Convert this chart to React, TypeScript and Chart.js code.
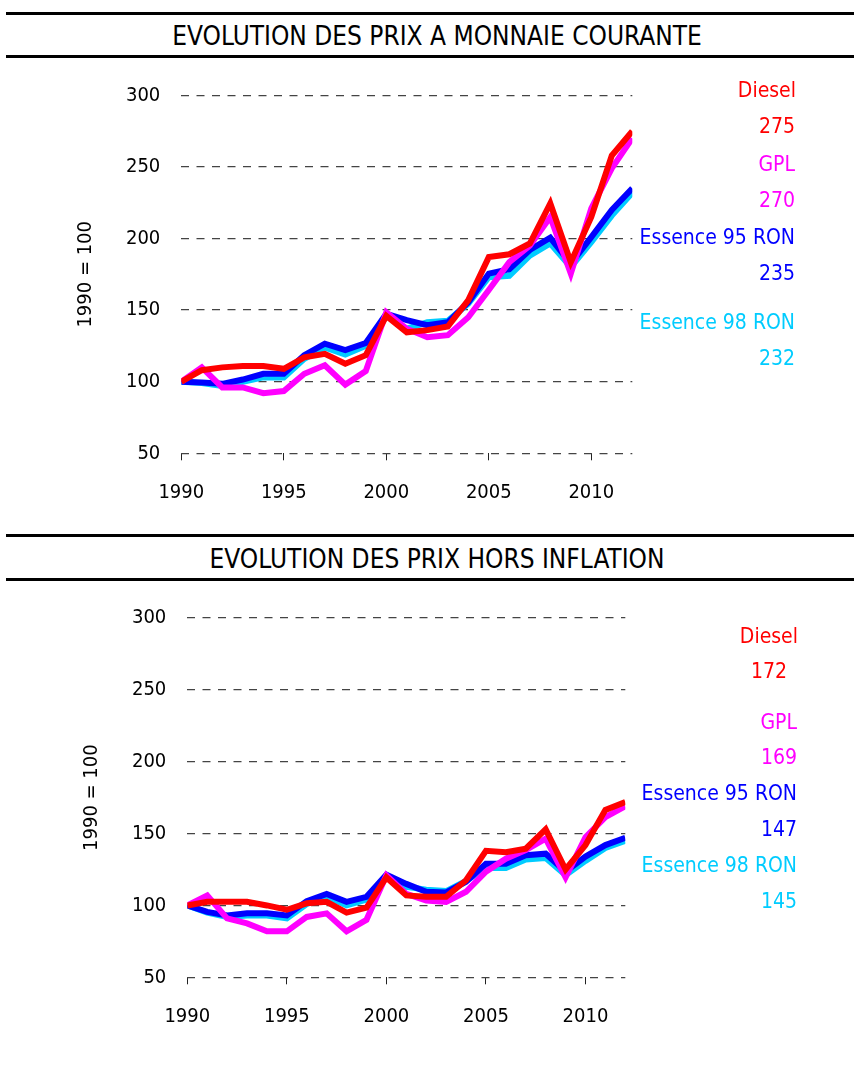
import React, { useEffect, useRef } from 'react';
import { Chart, registerables } from 'chart.js';

Chart.register(...registerables);

const FONT = '"DejaVu Sans Condensed", "DejaVu Sans", sans-serif';

const years = [1990, 1991, 1992, 1993, 1994, 1995, 1996, 1997, 1998, 1999, 2000, 2001, 2002, 2003, 2004, 2005, 2006, 2007, 2008, 2009, 2010, 2011, 2012];
const xTicks = [1990, 1995, 2000, 2005, 2010];
const yTicks = [50, 100, 150, 200, 250, 300];

const seriesNames = ['Diesel', 'GPL', 'Essence 95 RON', 'Essence 98 RON'];
const seriesColors = ['#FF0000', '#FF00FF', '#0000FF', '#00CCFF'];

// Prix à monnaie courante (1990 = 100)
const nominalDiesel = [100, 108, 110, 111, 111, 109, 117, 119.5, 112.5, 118.5, 146, 134.5, 136, 138.5, 157, 187, 189, 196.5, 224.5, 183.5, 215, 258, 275];
const nominalGpl = [100, 110, 96, 96, 92, 93.5, 105.5, 111.5, 98, 107.5, 148.5, 137, 131, 132.5, 145, 164, 183.5, 195, 215, 175.5, 221, 249, 270];
const nominalE95 = [100, 99.5, 98.5, 101.5, 105.5, 105.5, 118.5, 126.5, 122, 127, 147.5, 143, 139.5, 141.5, 155.5, 175.5, 178.5, 192, 200.5, 182.5, 201, 220, 235];
const nominalE98 = [100, 99, 97, 100, 103, 103, 116, 124, 119, 125, 146, 137, 141.5, 142.5, 154.5, 173, 174, 188, 196.5, 180, 197.5, 216, 232];
const nominalFinal = ['275', '270', '235', '232'];

// Prix hors inflation (1990 = 100)
const realDiesel = [100, 102.5, 102.5, 102.5, 100, 97, 101.5, 102.5, 95, 98.5, 119.5, 107, 106, 106, 117.5, 138, 137, 139.5, 153, 125, 142, 166.5, 172];
const realGpl = [100, 107, 91, 87.5, 82, 82, 92, 94.5, 82, 90, 121, 108, 103.5, 102.5, 109.5, 123.5, 132.5, 138.5, 146.5, 119.5, 147.5, 161.5, 169];
const realE95 = [100, 95.5, 93, 94.5, 94.5, 93, 103, 108, 102.5, 106, 121.5, 115, 109.5, 109, 116.5, 129, 129, 135, 136, 123.5, 134, 142, 147];
const realE98 = [100, 95, 92, 93, 93, 91, 101, 106, 100, 104, 120, 113, 111, 110, 117, 126, 126, 132, 133, 121, 131, 140, 145];
const realFinal = ['172', '169', '147', '145'];

const yAxisTitle = '1990 = 100';
const title1 = 'EVOLUTION DES PRIX A MONNAIE COURANTE';
const title2 = 'EVOLUTION DES PRIX HORS INFLATION';

type Label = { text: string; color: string; x: number; y: number; align?: CanvasTextAlign };

type PanelProps = {
  top: number;
  height: number;
  area: { left: number; right: number; top: number; bottom: number };
  yTitleX: number;
  series: number[][];
  labels: Label[];
};

function Panel({ top, height, area, yTitleX, series, labels }: PanelProps) {
  const ref = useRef<HTMLCanvasElement>(null);
  useEffect(() => {
    const canvas = ref.current!;
    const aTop = area.top - top;
    const aBottom = area.bottom - top;
    const font = { family: FONT, size: 20 };
    const labelPlugin = {
      id: 'sideLabels',
      afterDraw(chart: any) {
        const ctx = chart.ctx as CanvasRenderingContext2D;
        ctx.save();
        ctx.font = `21px ${FONT}`;
        ctx.textBaseline = 'middle';
        labels.forEach((l) => {
          ctx.fillStyle = l.color;
          ctx.textAlign = l.align || 'right';
          ctx.fillText(l.text, l.x, l.y - top);
        });
        ctx.restore();
      },
    };
    const chart = new Chart(canvas, {
      type: 'line',
      data: {
        datasets: series.map((vals, i) => ({
          label: seriesNames[i],
          data: years.map((yr, j) => ({ x: yr, y: vals[j] })),
          borderColor: seriesColors[i],
          backgroundColor: seriesColors[i],
          borderWidth: 6,
          pointRadius: 0,
          tension: 0,
          fill: false,
        })),
      },
      options: {
        animation: false,
        responsive: false,
        layout: { padding: { left: 0, top: aTop, right: 854 - area.right, bottom: 0 } },
        plugins: { legend: { display: false }, tooltip: { enabled: false }, title: { display: false } },
        scales: {
          x: {
            type: 'linear',
            min: 1990,
            max: 2012,
            afterBuildTicks: (s: any) => {
              s.ticks = xTicks.map((v) => ({ value: v }));
            },
            afterFit: (s: any) => {
              s.height = height - aBottom;
            },
            ticks: { font, color: '#000', padding: 20, maxRotation: 0, callback: (v: any) => String(v) },
            grid: { drawOnChartArea: false, drawTicks: true, tickLength: 7, color: '#222', lineWidth: 1 },
            border: { display: false },
          },
          y: {
            type: 'linear',
            min: 50,
            max: 300,
            afterBuildTicks: (s: any) => {
              s.ticks = yTicks.map((v) => ({ value: v }));
            },
            afterFit: (s: any) => {
              s.width = area.left;
            },
            ticks: { font, color: '#000', padding: 21, callback: (v: any) => String(v) },
            grid: { drawTicks: false, color: '#444', lineWidth: 1.3 },
            border: { display: false, dash: [8, 7.5] },
            title: {
              display: true,
              text: yAxisTitle,
              font,
              color: '#000',
              padding: { top: yTitleX - 12, bottom: 0 },
            },
          },
        },
      },
      plugins: [labelPlugin],
    } as any);
    return () => chart.destroy();
  }, []);
  return (
    <canvas
      ref={ref}
      width={854}
      height={height}
      style={{ position: 'absolute', left: 0, top, width: 854, height }}
    />
  );
}

function TitleBar({ top, height, text }: { top: number; height: number; text: string }) {
  return (
    <div
      style={{
        position: 'absolute',
        left: 6,
        width: 848,
        top,
        height,
        boxSizing: 'border-box',
        borderTop: '3px solid #000',
        borderBottom: '3px solid #000',
        display: 'flex',
        alignItems: 'center',
        justifyContent: 'center',
        paddingLeft: 14,
        paddingTop: 2,
        fontFamily: FONT,
        fontSize: 26,
        color: '#000',
        whiteSpace: 'nowrap',
      }}
    >
      {text}
    </div>
  );
}

export default function App() {
  const c = seriesColors;
  const labels1: Label[] = [
    { text: seriesNames[0], color: c[0], x: 796, y: 92 },
    { text: nominalFinal[0], color: c[0], x: 795, y: 127.5 },
    { text: seriesNames[1], color: c[1], x: 795, y: 166 },
    { text: nominalFinal[1], color: c[1], x: 795, y: 201.5 },
    { text: seriesNames[2], color: c[2], x: 795, y: 239 },
    { text: nominalFinal[2], color: c[2], x: 795, y: 275 },
    { text: seriesNames[3], color: c[3], x: 795, y: 324 },
    { text: nominalFinal[3], color: c[3], x: 795, y: 359.5 },
  ];
  const labels2: Label[] = [
    { text: seriesNames[0], color: c[0], x: 798, y: 638 },
    { text: realFinal[0], color: c[0], x: 769, y: 673, align: 'center' },
    { text: seriesNames[1], color: c[1], x: 797, y: 724 },
    { text: realFinal[1], color: c[1], x: 797, y: 759 },
    { text: seriesNames[2], color: c[2], x: 797, y: 795 },
    { text: realFinal[2], color: c[2], x: 797, y: 831 },
    { text: seriesNames[3], color: c[3], x: 797, y: 867 },
    { text: realFinal[3], color: c[3], x: 797, y: 903 },
  ];
  return (
    <div style={{ position: 'absolute', left: 0, top: 0, width: 854, height: 1083, background: '#fff' }}>
      <TitleBar top={12} height={46} text={title1} />
      <Panel
        top={60}
        height={470}
        area={{ left: 181.3, right: 632.3, top: 95.3, bottom: 453.3 }}
        yTitleX={86}
        series={[nominalDiesel, nominalGpl, nominalE95, nominalE98]}
        labels={labels1}
      />
      <TitleBar top={534} height={47} text={title2} />
      <Panel
        top={585}
        height={470}
        area={{ left: 187.3, right: 625.3, top: 617.3, bottom: 977.3 }}
        yTitleX={91.7}
        series={[realDiesel, realGpl, realE95, realE98]}
        labels={labels2}
      />
    </div>
  );
}
